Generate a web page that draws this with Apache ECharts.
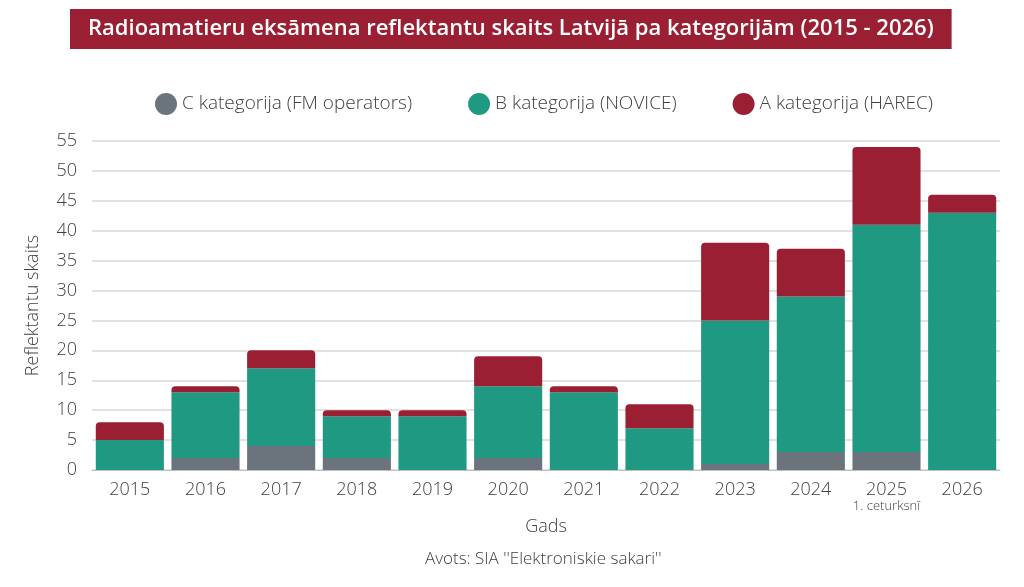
<!DOCTYPE html>
<html style="height: 100%">
<head>
    <meta charset="utf-8">
    <script src="https://cdn.jsdelivr.net/npm/echarts@6/dist/echarts.min.js"></script>
    <title>Radioamatieru eksāmena reflektanti</title>
</head>
<body style="height: 100%; margin: 0">
<div id="container" style="width: 1024px; height: 587px"></div>
<script type="text/javascript">

    let years = ['2015', '2016', '2017', '2018', '2019', '2020', '2021', '2022', '2023', '2024', '2025', '2026']
    let catC = [0, 2, 4, 2, 0, 2, 0, 0, 1, 3, 3, 0]
    let catB = [5, 11, 13, 7, 9, 12, 13, 7, 24, 26, 38, 43]
    let catA = [3, 1, 3, 1, 1, 5, 1, 4, 13, 8, 13, 3]
    let yTicks = [0, 5, 10, 15, 20, 25, 30, 35, 40, 45, 50, 55]

    let font = 'Open Sans'
    let textColor = '#404040'

    let dom = document.getElementById('container')
    let chart = echarts.init(dom)

    chart.setOption({
        animation: false,
        textStyle: {fontFamily: font},
        title: {
            text: 'Radioamatieru eksāmena reflektantu skaits Latvijā pa kategorijām (2015 - 2026)',
            left: 70,
            top: 9,
            backgroundColor: '#9A1F33',
            padding: [8, 18, 8, 18],
            textStyle: {color: '#fff', fontSize: 22, fontWeight: 600, fontFamily: font, lineHeight: 24}
        },
        legend: {
            top: 88,
            left: 150,
            icon: 'circle',
            itemWidth: 22,
            itemHeight: 22,
            itemGap: 56,
            textStyle: {color: textColor, fontSize: 19, fontWeight: 300, fontFamily: font}
        },
        grid: {left: 92, right: 24, top: 141, bottom: 117},
        xAxis: {
            type: 'category',
            data: years,
            name: 'Gads',
            nameLocation: 'middle',
            nameGap: 42,
            nameTextStyle: {color: textColor, fontSize: 18, fontWeight: 300},
            axisTick: {show: false},
            axisLine: {lineStyle: {color: '#bfbfbf'}},
            axisLabel: {
                interval: 0,
                color: textColor,
                fontSize: 18,
                fontWeight: 300,
                margin: 11,
                formatter: function (v) {
                    return v === '2025' ? v + '\n{s|1. ceturksnī}' : v
                },
                rich: {s: {fontSize: 13, fontWeight: 300, color: textColor, lineHeight: 14}}
            }
        },
        yAxis: {
            type: 'value',
            min: yTicks[0],
            max: yTicks[yTicks.length - 1],
            interval: 5,
            name: 'Reflektantu skaits',
            nameLocation: 'middle',
            nameGap: 50,
            nameTextStyle: {color: textColor, fontSize: 18, fontWeight: 300},
            axisLabel: {color: textColor, fontSize: 18, fontWeight: 300, margin: 15},
            splitLine: {lineStyle: {color: '#d9d9d9', width: 1.5}}
        },
        series: [
            {
                name: 'C kategorija (FM operators)',
                type: 'bar',
                stack: 'total',
                barCategoryGap: '10%',
                data: catC,
                itemStyle: {color: '#6B737C'}
            },
            {
                name: 'B kategorija (NOVICE)',
                type: 'bar',
                stack: 'total',
                data: catB,
                itemStyle: {color: '#209983'}
            },
            {
                name: 'A kategorija (HAREC)',
                type: 'bar',
                stack: 'total',
                data: catA,
                itemStyle: {color: '#9A1F33', borderRadius: [4, 4, 0, 0]}
            }
        ],
        graphic: [{
            type: 'text',
            left: 425,
            top: 551,
            style: {
                text: "Avots: SIA ''Elektroniskie sakari''",
                fill: textColor,
                font: '300 17px "Open Sans"'
            }
        }]
    })

</script>
</body>
</html>
